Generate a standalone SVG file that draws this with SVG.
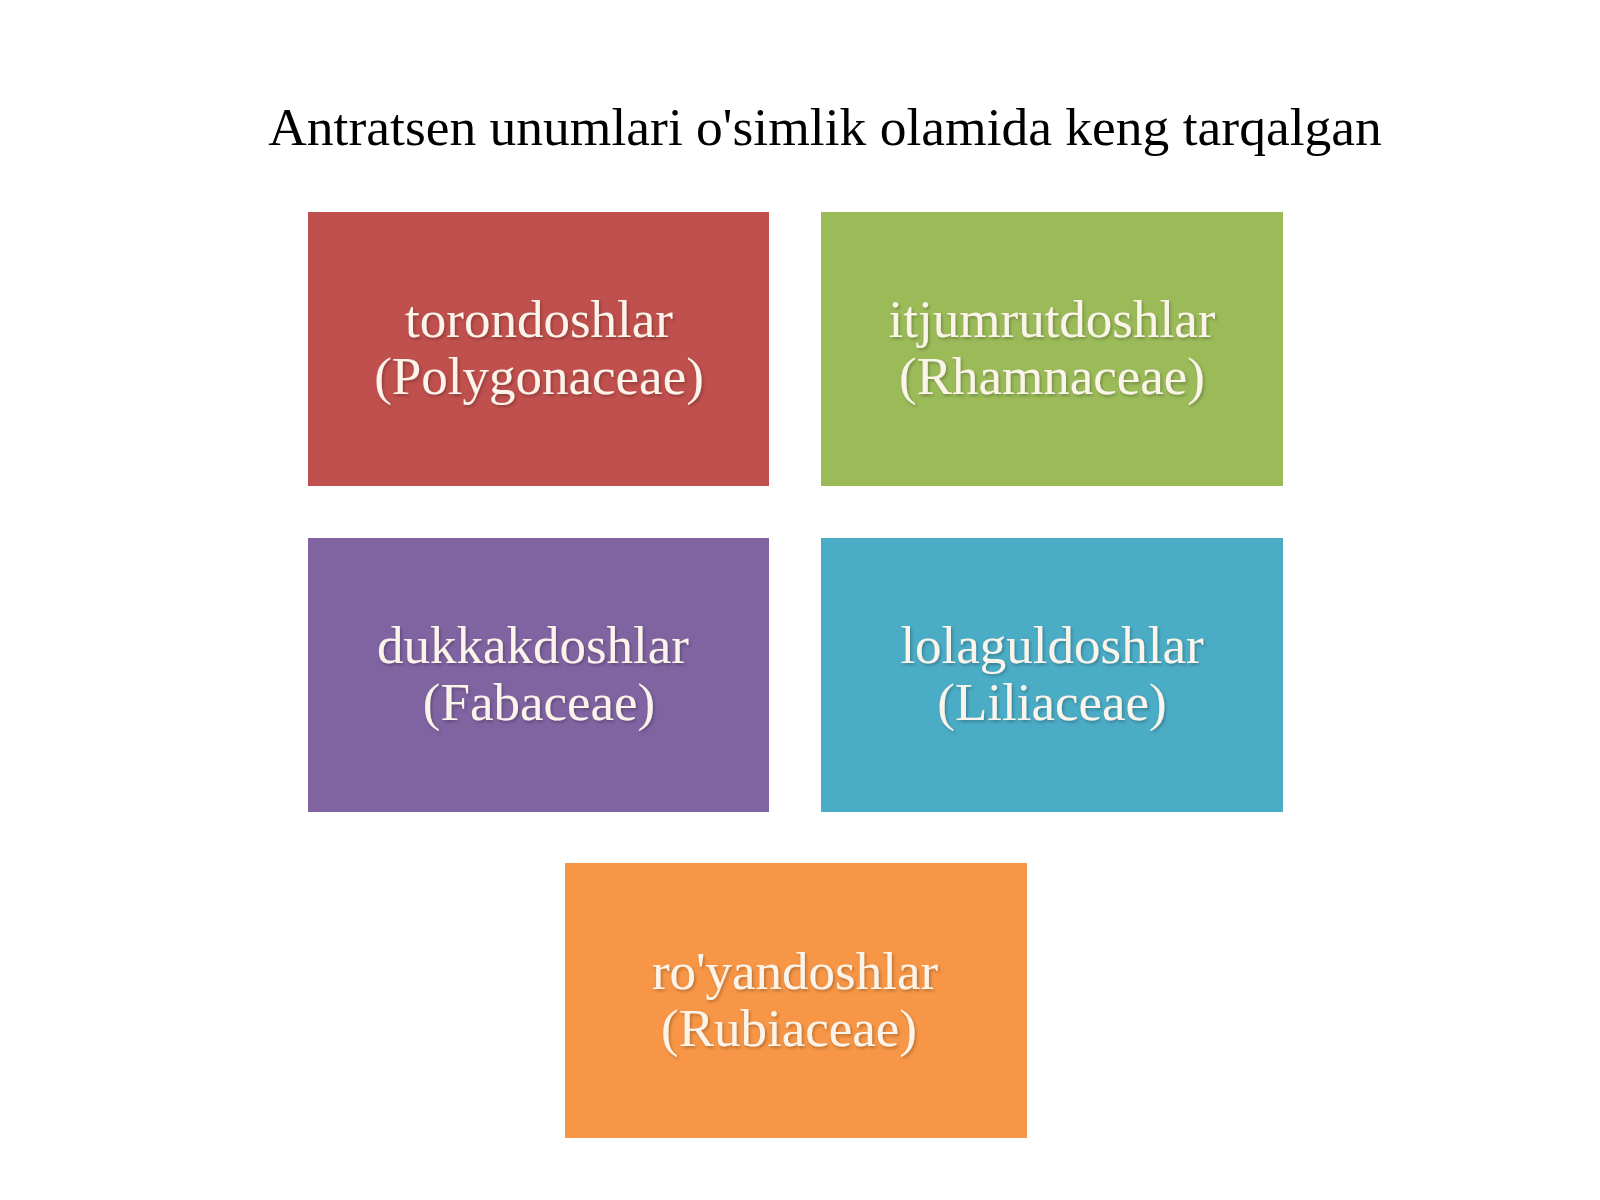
<svg xmlns="http://www.w3.org/2000/svg" width="1600" height="1200" viewBox="0 0 1600 1200">
<style>
.title{font-family:"Liberation Serif","Times New Roman",serif;font-size:53.5px;fill:#000;text-anchor:middle}
.lbl{font-family:"Liberation Serif","Times New Roman",serif;font-size:53px;fill:#fbf4ea;text-anchor:middle;filter:url(#ts)}
</style>
<defs>
<filter id="ts" x="-10%" y="-30%" width="120%" height="160%">
<feDropShadow dx="1.5" dy="2" stdDeviation="1.5" flood-color="#000" flood-opacity="0.25"/>
</filter>
</defs>
<rect width="1600" height="1200" fill="#fff"/>
<text class="title" x="825" y="145">Antratsen unumlari o'simlik olamida keng tarqalgan</text>
<g id="node-polygonaceae">
<rect x="308" y="212" width="461" height="274" fill="#c0504d"/>
<text class="lbl" x="539" y="337">torondoshlar</text>
<text class="lbl" x="539" y="394">(Polygonaceae)</text>
</g>
<g id="node-rhamnaceae">
<rect x="821" y="212" width="462" height="274" fill="#9bbb59"/>
<text class="lbl" x="1052" y="337">itjumrutdoshlar</text>
<text class="lbl" x="1052" y="394">(Rhamnaceae)</text>
</g>
<g id="node-fabaceae">
<rect x="308" y="538" width="461" height="274" fill="#8064a2"/>
<text class="lbl" x="533" y="663">dukkakdoshlar</text>
<text class="lbl" x="539" y="720">(Fabaceae)</text>
</g>
<g id="node-liliaceae">
<rect x="821" y="538" width="462" height="274" fill="#4bacc6"/>
<text class="lbl" x="1052" y="663">lolaguldoshlar</text>
<text class="lbl" x="1052" y="720">(Liliaceae)</text>
</g>
<g id="node-rubiaceae">
<rect x="565" y="863" width="462" height="275" fill="#f79646"/>
<text class="lbl" x="795" y="989">ro'yandoshlar</text>
<text class="lbl" x="789" y="1046">(Rubiaceae)</text>
</g>
<g id="connectors"></g>
</svg>
